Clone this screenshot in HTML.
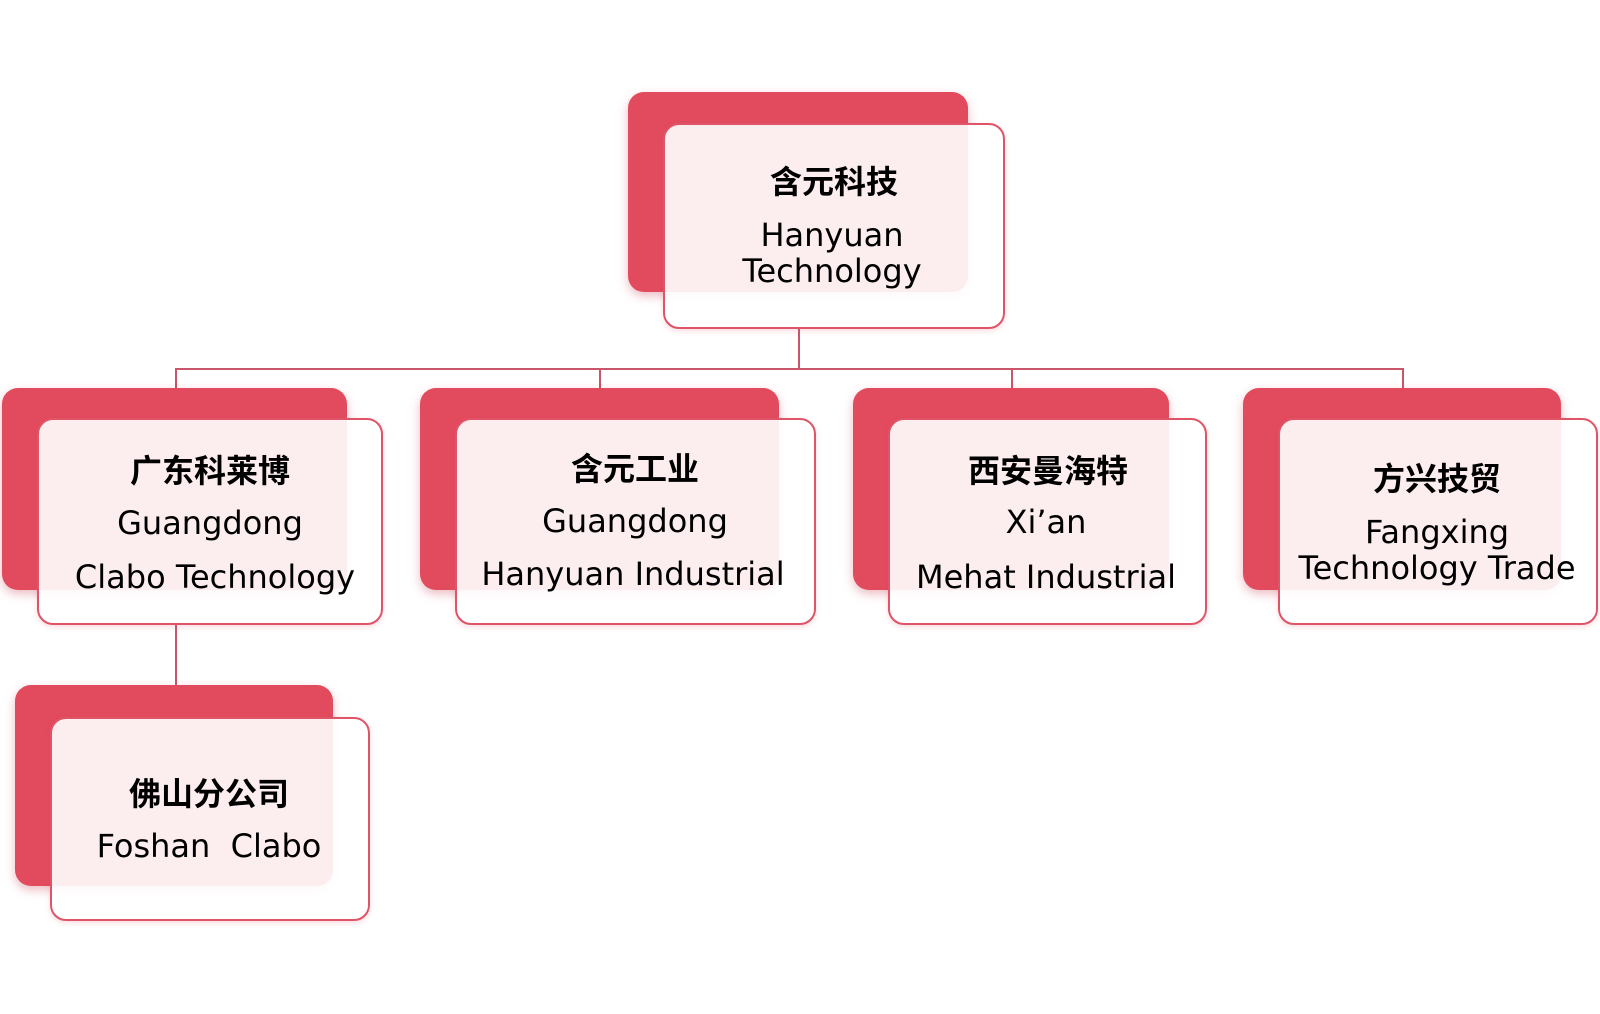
<!DOCTYPE html>
<html><head><meta charset="utf-8"><style>
body{margin:0;width:1600px;height:1014px;background:#fff;position:relative;overflow:hidden;font-family:"DejaVu Sans","Liberation Sans","Noto Sans CJK SC",sans-serif}
.b{position:absolute;background:#e24a5e;border-radius:16px;box-shadow:0 4px 10px rgba(200,60,80,.35)}
.f{position:absolute;background:rgba(255,255,255,.9);border:2px solid #e05468;border-radius:16px;box-sizing:border-box;box-shadow:0 2px 6px rgba(220,80,100,.2)}
.t{position:absolute;transform:translate(-50%,-50%);white-space:nowrap;color:#000;font-size:32px;line-height:1}
.c{font-family:"Noto Sans CJK SC","WenQuanYi Zen Hei",sans-serif;font-weight:bold;font-size:32px}
.l{position:absolute;background:#c9566a}
</style></head><body>
<div class="l" style="left:798px;top:327px;width:2px;height:43px"></div>
<div class="l" style="left:175px;top:368px;width:1229px;height:2px"></div>
<div class="l" style="left:175px;top:368px;width:2px;height:22px"></div>
<div class="l" style="left:599px;top:368px;width:2px;height:22px"></div>
<div class="l" style="left:1011px;top:368px;width:2px;height:22px"></div>
<div class="l" style="left:1402px;top:368px;width:2px;height:22px"></div>
<div class="l" style="left:175px;top:622px;width:2px;height:65px"></div>

<div class="b" style="left:628px;top:92px;width:340px;height:200px"></div>
<div class="f" style="left:663px;top:123px;width:342px;height:206px"></div>
<div class="t c" style="left:834px;top:180px">含元科技</div>
<div class="t" style="left:832px;top:235px">Hanyuan</div>
<div class="t" style="left:832px;top:271px">Technology</div>

<div class="b" style="left:2px;top:388px;width:345px;height:202px"></div>
<div class="f" style="left:37px;top:418px;width:346px;height:207px"></div>
<div class="t c" style="left:210px;top:469px">广东科莱博</div>
<div class="t" style="left:210px;top:523px">Guangdong</div>
<div class="t" style="left:215px;top:577px">Clabo Technology</div>

<div class="b" style="left:420px;top:388px;width:359px;height:202px"></div>
<div class="f" style="left:455px;top:418px;width:361px;height:207px"></div>
<div class="t c" style="left:635px;top:467px">含元工业</div>
<div class="t" style="left:635px;top:521px">Guangdong</div>
<div class="t" style="left:633px;top:574px">Hanyuan Industrial</div>

<div class="b" style="left:853px;top:388px;width:316px;height:202px"></div>
<div class="f" style="left:888px;top:418px;width:319px;height:207px"></div>
<div class="t c" style="left:1048px;top:469px">西安曼海特</div>
<div class="t" style="left:1046px;top:522px">Xi’an</div>
<div class="t" style="left:1046px;top:577px">Mehat Industrial</div>

<div class="b" style="left:1243px;top:388px;width:318px;height:202px"></div>
<div class="f" style="left:1278px;top:418px;width:320px;height:207px"></div>
<div class="t c" style="left:1437px;top:477px">方兴技贸</div>
<div class="t" style="left:1437px;top:532px">Fangxing</div>
<div class="t" style="left:1437px;top:568px">Technology Trade</div>

<div class="b" style="left:15px;top:685px;width:318px;height:201px"></div>
<div class="f" style="left:50px;top:717px;width:320px;height:204px"></div>
<div class="t c" style="left:209px;top:792px">佛山分公司</div>
<div class="t" style="left:209px;top:846px">Foshan&nbsp;&nbsp;Clabo</div>
</body></html>
